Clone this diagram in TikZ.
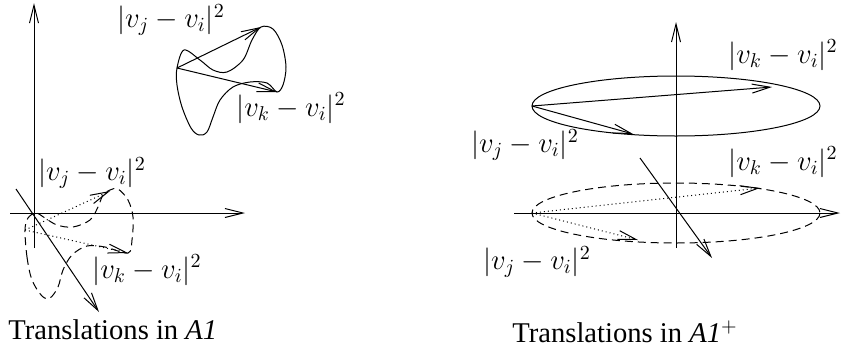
\documentclass[tikz,border=0pt]{standalone}
\usepackage{fontspec}
\setmainfont{Liberation Serif}
\usetikzlibrary{arrows.meta}
\tikzset{
  barb/.style={-{Straight Barb[length=9pt,width=4.5pt]}},
  lbl/.style={font=\fontsize{14}{16}\selectfont, inner sep=0pt},
  capt/.style={font=\fontsize{14.3}{17}\selectfont, inner sep=0pt},
  dashloop/.style={dash pattern=on 4pt off 2.5pt},
  dotvec/.style={dash pattern=on 0.5pt off 1.5pt},
}

\begin{document}
\begin{tikzpicture}[x=0.5pt, y=-0.5pt, line width=0.5pt]
  \useasboundingbox (0,0) rectangle (841,354);

  % translations in A1
  \coordinate (axL0) at (10,213);
  \coordinate (axL) at (245,213);
  \coordinate (ayL0) at (34,248);
  \coordinate (ayL) at (34,3);
  \coordinate (azL0) at (16,189);
  \coordinate (azL) at (99,312);
  \draw[barb] (axL0) -- (axL);
  \draw[barb] (ayL0) -- (ayL);
  \draw[barb] (azL0) -- (azL);

  % translated cone, solid
  \coordinate (oT) at (177,68);
  \coordinate (jT) at (261,27);
  \coordinate (kT) at (277,92);
  \draw plot[smooth cycle, tension=0.55] coordinates {
    (177,68) (184,50) (200,60) (213,70) (227,72) (243,60) (252,40) (261,27)
    (273,29) (282,45) (286,67) (283,85) (277,92) (267,83) (250,82) (233,87)
    (220,100) (213,117) (207,132) (199,135) (191,128) (182,107) (177,85)};
  \draw[barb] (oT) -- (jT);
  \draw[barb] (oT) -- (kT);
  \node[lbl] (vjT) at (171,20) {$|v_j - v_i|^2$};
  \node[lbl] (vkT) at (291,108) {$|v_k - v_i|^2$};

  % cone at the origin, dashed
  \coordinate (oB) at (25,230);
  \coordinate (jB) at (110,191);
  \coordinate (kB) at (128,253);
  \draw[dashloop] plot[smooth cycle, tension=0.55] coordinates {
    (25,230) (27,257) (32,280) (42,296) (50,298) (58,287) (63,270) (72,255)
    (87,246) (105,247) (128,253) (132,240) (133,217) (128,200) (118,189)
    (110,190) (103,195) (98,207) (90,220) (73,227) (57,225) (45,218) (36,213)
    (28,218)};
  \draw[dotvec, barb] (oB) -- (jB);
  \draw[dotvec, barb] (oB) -- (kB);
  \node[lbl] (vjB) at (92,173) {$|v_j - v_i|^2$};
  \node[lbl] (vkB) at (147,270) {$|v_k - v_i|^2$};

  \node[capt, anchor=west] (capA) at (8,330) {Translations in \textit{A1}};

  % translations in A1+
  \coordinate (axR0) at (514,213);
  \coordinate (axR) at (840,213);
  \coordinate (ayR0) at (676,248);
  \coordinate (ayR) at (676,22);
  \coordinate (azR0) at (640,158);
  \coordinate (azR) at (712,258);
  \draw[barb] (axR0) -- (axR);
  \draw[barb] (ayR0) -- (ayR);
  \draw[barb] (azR0) -- (azR);

  % translated disc, solid
  \coordinate (oU) at (532,106);
  \coordinate (kU) at (772,87);
  \coordinate (jU) at (633,134);
  \draw (676,106) ellipse [x radius=144, y radius=30];
  \draw[barb] (oU) -- (kU);
  \draw[barb] (oU) -- (jU);
  \node[lbl] (vkU) at (783,55) {$|v_k - v_i|^2$};
  \node[lbl] (vjU) at (525,145) {$|v_j - v_i|^2$};

  % disc at the origin, dashed
  \coordinate (oD) at (532,213);
  \coordinate (kD) at (760,188);
  \coordinate (jD) at (638,240);
  \draw[dashloop] (676,213) ellipse [x radius=144, y radius=30];
  \draw[dotvec, barb] (oD) -- (kD);
  \draw[dotvec, barb] (oD) -- (jD);
  \node[lbl] (vkD) at (783,162) {$|v_k - v_i|^2$};
  \node[lbl] (vjD) at (537,262) {$|v_j - v_i|^2$};

  \node[capt] (capB) at (625,332) {Translations in \textit{A1}$^+$};
\end{tikzpicture}
\end{document}
